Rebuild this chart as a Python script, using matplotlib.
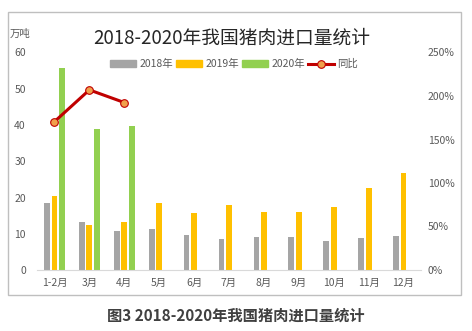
import numpy as np
import matplotlib
matplotlib.use("Agg")
import matplotlib.pyplot as plt
from matplotlib.patches import Patch, Rectangle
from matplotlib.lines import Line2D

plt.rcParams['font.family'] = ['Noto Sans CJK SC', 'DejaVu Sans']

# monthly pork imports (10k tonnes) and year-on-year growth (%)
months = ['1-2月', '3月', '4月', '5月', '6月', '7月', '8月', '9月', '10月', '11月', '12月']
imp_2018 = [18.5, 13.3, 10.8, 11.3, 9.7, 8.6, 9.1, 9.1, 8.0, 8.8, 9.4]
imp_2019 = [20.5, 12.5, 13.3, 18.5, 15.7, 18.0, 16.0, 16.0, 17.4, 22.7, 26.8]
imp_2020 = [55.8, 39.0, 39.8]
yoy_2020 = [170.5, 207.0, 192.5]

c_2018 = '#A5A5A5'
c_2019 = '#FFC000'
c_2020 = '#92D050'
c_line = '#C00000'
c_text = '#595959'

fig = plt.figure(figsize=(4.72, 3.31), dpi=100)
fig.patch.set_facecolor('white')

# outer frame around the chart
fig.add_artist(Rectangle((8 / 472, 1 - 295 / 331), 453 / 472, 283 / 331,
                         transform=fig.transFigure, fill=False,
                         edgecolor='#BFBFBF', linewidth=1.0))

ax = fig.add_axes([37 / 472, 1 - 270 / 331, 384 / 472, 217.5 / 331])
x = np.arange(len(months))
w = 0.165
off = 0.215

ax.bar(x - off, imp_2018, w, color=c_2018, zorder=2)
ax.bar(x, imp_2019, w, color=c_2019, zorder=2)
ax.bar(x[:len(imp_2020)] + off, imp_2020, w, color=c_2020, zorder=2)

ax.set_xlim(-0.5, len(months) - 0.5)
ax.set_ylim(0, 60)
ax.set_yticks(np.arange(0, 61, 10))
ax.set_xticks(x)
ax.set_xticklabels(months)
for s in ['top', 'right', 'left']:
    ax.spines[s].set_visible(False)
ax.spines['bottom'].set_color('#D9D9D9')
ax.tick_params(axis='both', length=0, labelsize=7.5, colors=c_text)
ax.tick_params(axis='y', pad=8)
ax.tick_params(axis='x', pad=6)

ax2 = ax.twinx()
ax2.plot(x[:len(yoy_2020)], yoy_2020, color=c_line, linewidth=2.2,
         marker='o', markersize=5.5, markerfacecolor='#F0A04B',
         markeredgecolor=c_line, markeredgewidth=0.8, zorder=3)
ax2.set_ylim(0, 250)
ax2.set_yticks(np.arange(0, 251, 50))
ax2.set_yticklabels([f'{v}%' for v in range(0, 251, 50)])
for s in ax2.spines.values():
    s.set_visible(False)
ax2.tick_params(axis='y', length=0, labelsize=7.5, colors=c_text, pad=5)

fig.text(20 / 472, 1 - 34 / 331, '万吨', fontsize=7.5, color=c_text,
         ha='center', va='center')
fig.text(232 / 472, 1 - 38 / 331, '2018-2020年我国猪肉进口量统计',
         fontsize=13.5, color='#262626', ha='center', va='center')

handles = [Patch(color=c_2018), Patch(color=c_2019), Patch(color=c_2020),
           Line2D([], [], color=c_line, linewidth=2.2, marker='o',
                  markersize=5.5, markerfacecolor='#F0A04B',
                  markeredgecolor=c_line, markeredgewidth=0.8)]
fig.legend(handles, ['2018年', '2019年', '2020年', '同比'], ncol=4,
           loc='center', bbox_to_anchor=(234 / 472, 1 - 64 / 331),
           frameon=False, fontsize=7.5, labelcolor=c_text,
           handlelength=2.5, handleheight=0.6, handletextpad=0.3,
           columnspacing=0.3)

fig.text(236 / 472, 1 - 316 / 331, '图3 2018-2020年我国猪肉进口量统计',
         fontsize=11, fontweight='bold', color='#404040',
         ha='center', va='center')

fig.savefig('out.png', dpi=100, facecolor='white')
